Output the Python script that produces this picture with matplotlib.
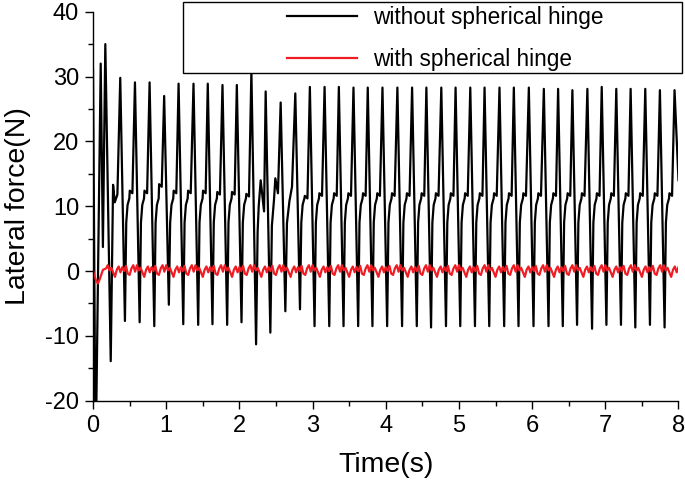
import numpy as np
import matplotlib.pyplot as plt
from matplotlib.patches import Rectangle

plt.rcParams['font.family'] = ['Liberation Sans', 'DejaVu Sans']
plt.rcParams['axes.unicode_minus'] = False

# black curve: start-up transient, read point by point
start_t = [0.0, 0.035, 0.105, 0.135, 0.168, 0.242, 0.274, 0.297, 0.333]
start_f = [31.0, -30.0, 32.0, 3.7, 35.0, -13.9, 13.3, 10.6, 11.8]

# black curve: one tooth per period, peak time / peak / trough / shoulder
peak_t = [0.372, 0.573, 0.773, 0.972, 1.169, 1.373, 1.568, 1.769, 1.965,
          2.164, 2.359, 2.564, 2.764, 2.963, 3.164, 3.359, 3.559, 3.754,
          3.955, 4.159, 4.360, 4.555, 4.759, 4.954, 5.155, 5.350, 5.554,
          5.750, 5.955, 6.160, 6.355, 6.550, 6.755, 6.951, 7.150, 7.346,
          7.546, 7.746, 7.946]
peak_f = [29.8, 29.1, 29.1, 27.0, 28.9, 28.9, 28.9, 28.7, 28.7,
          30.8, 27.7, 26.0, 27.4, 28.4, 28.4, 28.4, 28.3, 28.3,
          28.3, 28.3, 28.3, 28.3, 28.3, 28.3, 28.3, 28.3, 28.3,
          28.3, 28.3, 28.1, 28.1, 27.9, 28.1, 28.4, 28.1, 28.1,
          28.1, 27.9, 27.9]
trough_f = [-7.7, -7.9, -8.5, -5.2, -8.2, -8.3, -8.2, -8.3, -7.9,
            -11.3, -9.5, -6.2, -5.9, -8.5, -8.5, -8.5, -8.5, -8.5,
            -8.5, -8.5, -8.5, -8.7, -8.5, -8.5, -8.5, -8.5, -8.5,
            -8.5, -8.5, -8.5, -8.5, -8.3, -8.9, -8.3, -8.3, -8.7,
            -8.3, -8.7]
shoulder_f = [12.0, 12.0, 13.0, 12.0, 12.0, 12.0, 11.8, 11.8, 11.5,
              0, 0, 0, 11.2, 11.6, 11.6, 11.6, 11.6, 11.6,
              11.6, 11.6, 11.6, 11.6, 11.6, 11.6, 11.6, 11.6, 11.6,
              11.6, 11.6, 11.6, 11.6, 11.6, 11.6, 11.6, 11.6, 11.6,
              11.6, 11.6]
end_t, end_f = 8.0, 14.0

# shape of the rise after a trough (offsets from the peak)
trough_dt = 0.064
rise_dt = [0.082, 0.100, 0.124, 0.130, 0.166]
rise_f = [7.5, 10.2, 11.2, 0.4, 0.0]      # last two added to the shoulder
odd_rise = {
    9: ([0.085, 0.100, 0.127, 0.173], [6.0, 10.0, 14.0, 9.2]),
    10: ([0.085, 0.114, 0.132, 0.168], [7.0, 11.0, 14.3, 12.0]),
    11: ([0.086, 0.120, 0.155], [7.4, 10.8, 13.0]),
}

# red curve: start-up dip and two periods of ripple (0.025 s apart)
red_start_t = [0.0, 0.02, 0.045, 0.068, 0.09, 0.105, 0.12, 0.136, 0.16, 0.182]
red_start_f = [0.1, -0.8, -1.6, -1.9, -1.3, -0.8, -0.3, 0.2, 0.3, 0.45]
red_cycle = [0.9, 0.1, 0.5, -0.2, -0.9, 0.2, 0.7, -0.2,
             0.6, 0.0, 0.8, -0.4, -0.6, 0.4, 0.9, -0.1]
red_step = 0.025


def black_series():
    t, f = list(start_t), list(start_f)
    for i, tp in enumerate(peak_t):
        t.append(tp)
        f.append(peak_f[i])
        if i >= len(trough_f):
            break
        t.append(tp + trough_dt)
        f.append(trough_f[i])
        if i in odd_rise:
            dts, vals = odd_rise[i]
        else:
            dts = rise_dt
            vals = rise_f[:3] + [shoulder_f[i] + rise_f[3], shoulder_f[i]]
        t.extend(tp + d for d in dts)
        f.extend(vals)
    t.append(end_t)
    f.append(end_f)
    return t, f


def red_series():
    t, f = list(red_start_t), list(red_start_f)
    k = 0
    tk = 0.2
    while tk <= 8.0 + 1e-9:
        t.append(tk)
        f.append(red_cycle[k % len(red_cycle)])
        k += 1
        tk = 0.2 + k * red_step
    return t, f


fig = plt.figure(figsize=(6.85, 4.8), dpi=100)
ax = fig.add_axes([0.1358, 0.1652, 0.9905 - 0.1358, 0.9756 - 0.1652])

bt, bf = black_series()
rt, rf = red_series()
ax.plot(bt, bf, color='black', lw=1.6, label='without spherical hinge')
ax.plot(rt, rf, color='#f01c24', lw=1.6, label='with spherical hinge')

ax.set_xlim(0, 8)
ax.set_ylim(-20, 40)
ax.set_xticks(np.arange(0, 9, 1))
ax.set_xticks(np.arange(0.5, 8, 1), minor=True)
ax.set_yticks(np.arange(-20, 41, 10))
ax.set_yticks(np.arange(-15, 40, 10), minor=True)
ax.tick_params(which='major', direction='out', length=6, width=1,
               labelsize=17, pad=4)
ax.tick_params(which='minor', direction='out', length=3.5, width=1)
for side in ['top', 'right']:
    ax.spines[side].set_visible(False)
for side in ['left', 'bottom']:
    ax.spines[side].set_linewidth(1)

ax.set_xlabel('Time(s)', fontsize=20.5, labelpad=11)
ax.set_ylabel('Lateral force(N)', fontsize=20.5, labelpad=10)

box = Rectangle((0.2676, 0.8473), 0.7276, 0.1492, transform=fig.transFigure,
                facecolor='white', edgecolor='black', lw=1, zorder=4)
fig.patches.append(box)
fig.legend(loc='upper left', bbox_to_anchor=(0.4186, 0.988),
           bbox_transform=fig.transFigure, frameon=False, fontsize=16.3,
           handlelength=3.1, handletextpad=0.7, labelspacing=0.86,
           borderpad=0, borderaxespad=0)

fig.savefig('out.png', dpi=100)
